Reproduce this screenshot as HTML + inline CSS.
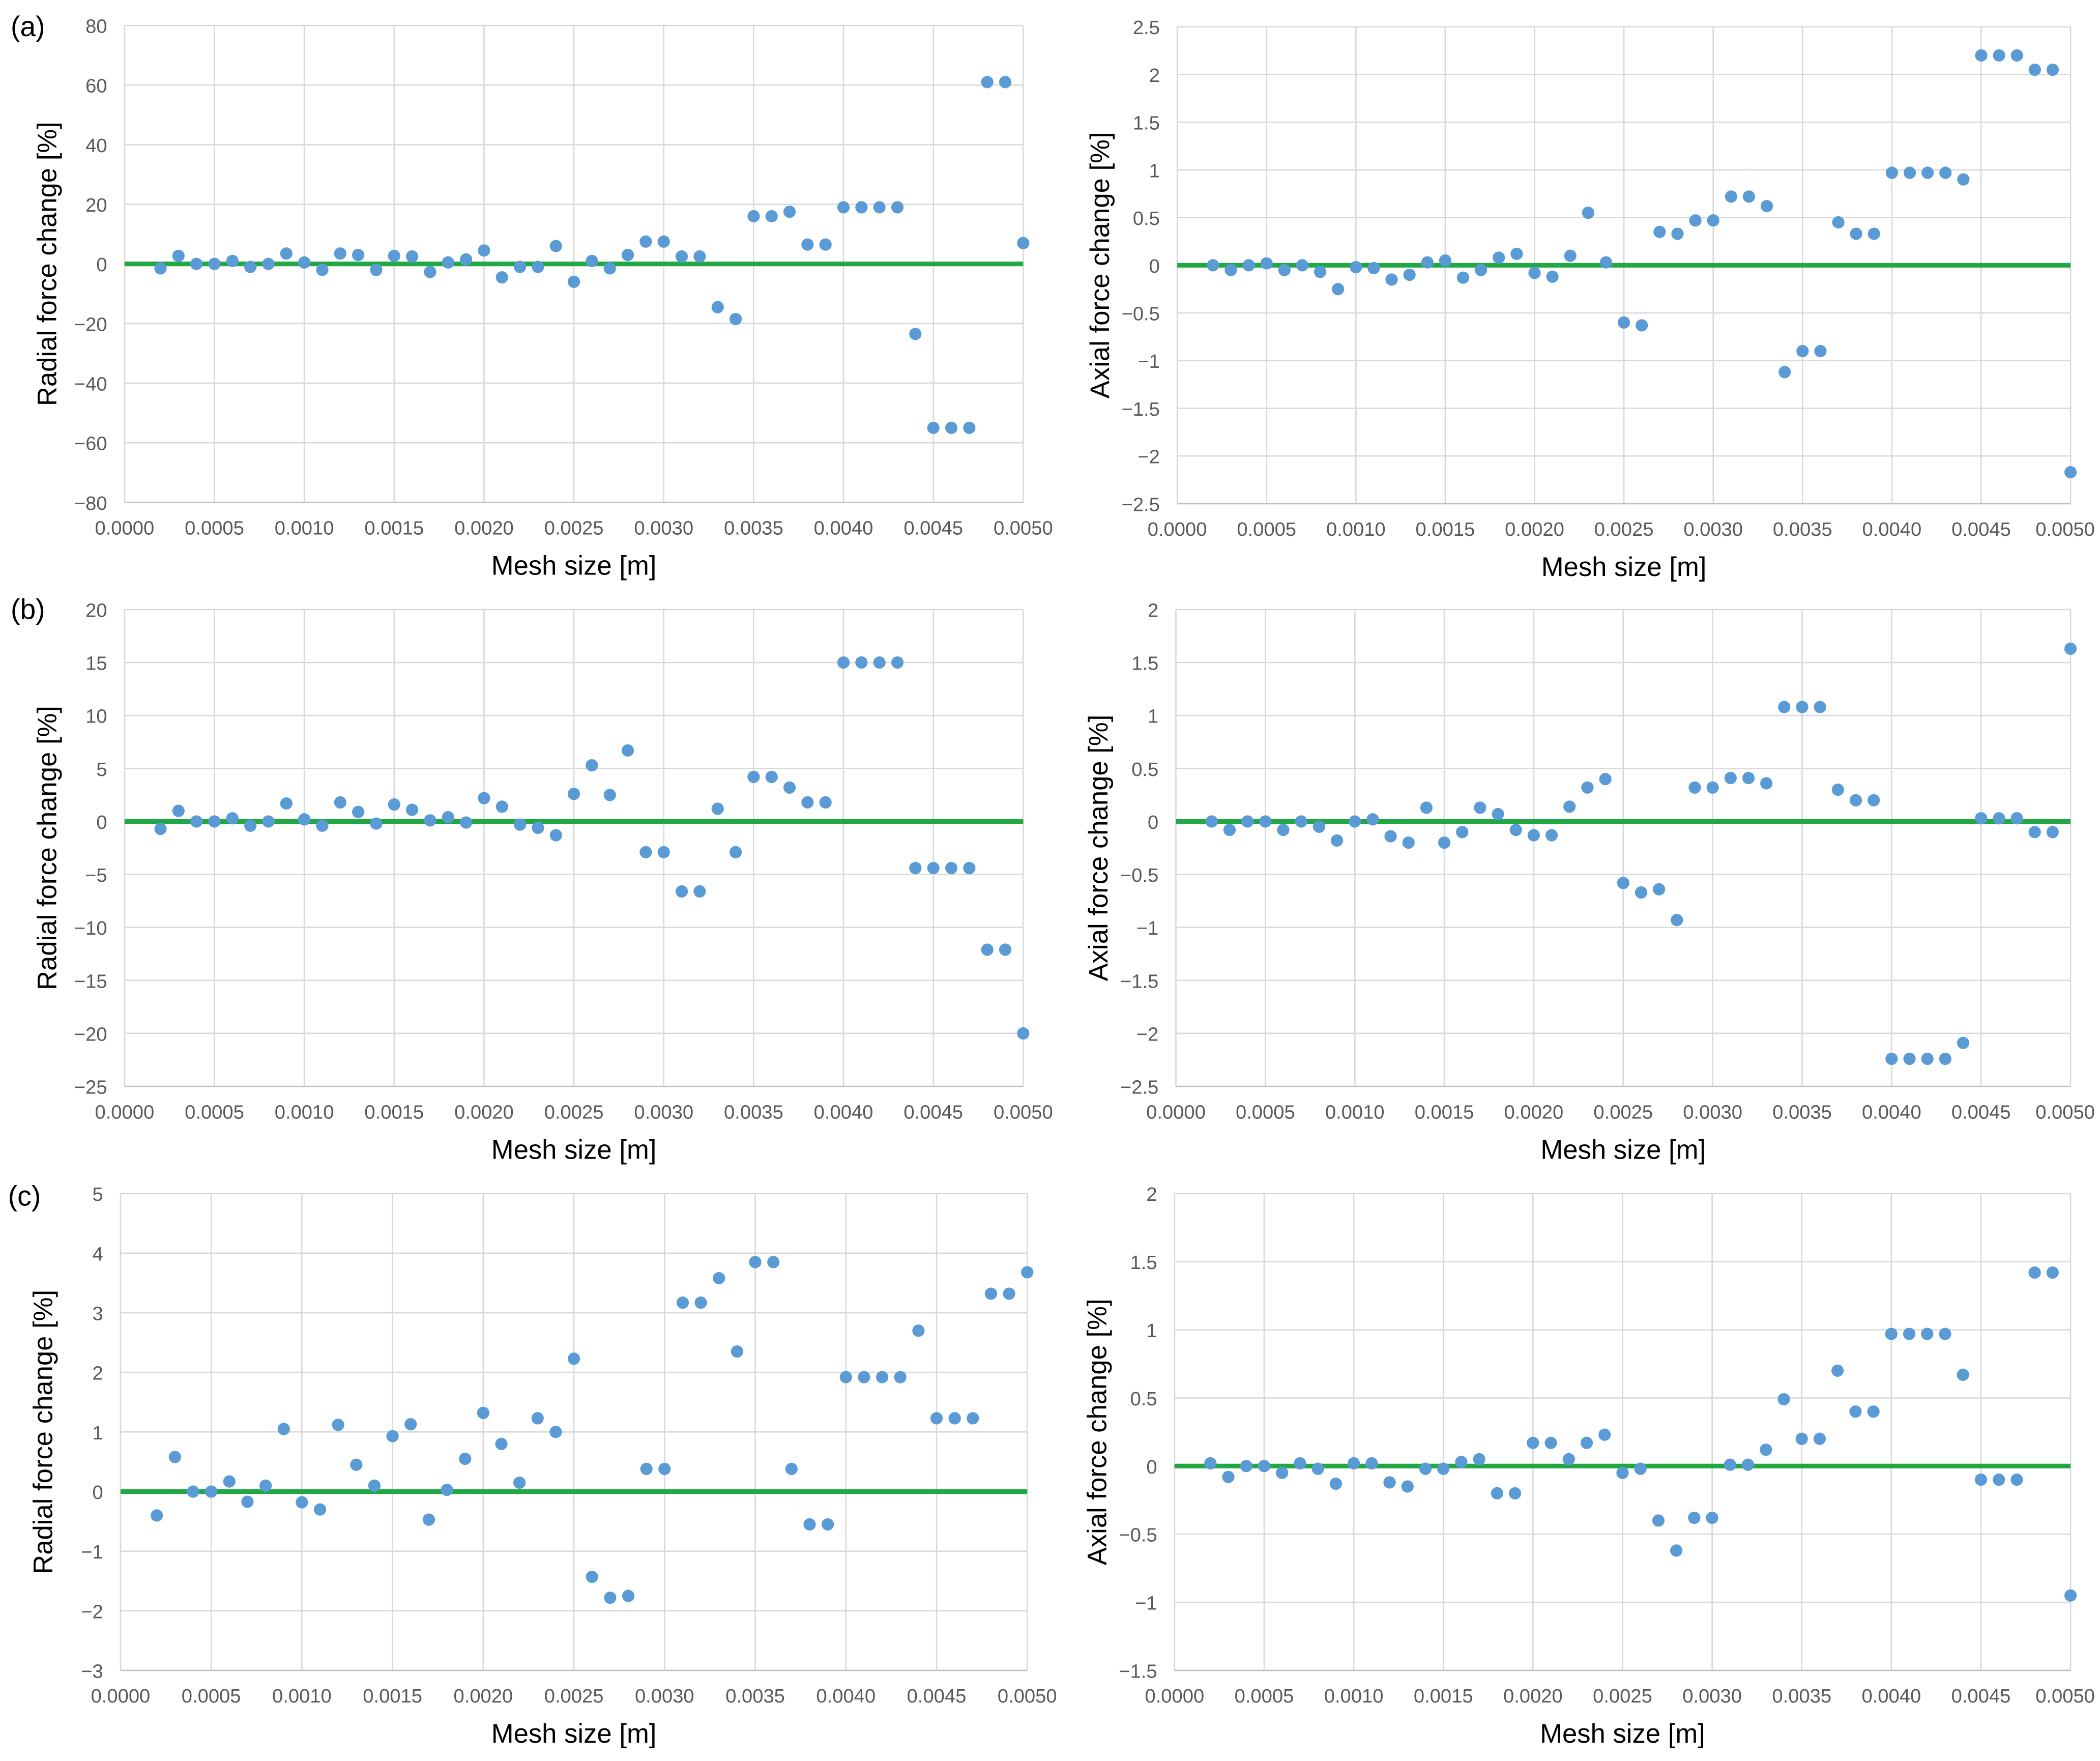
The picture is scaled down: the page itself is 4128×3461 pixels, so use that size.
<!DOCTYPE html>
<html><head><meta charset="utf-8"><style>
html,body{margin:0;padding:0;background:#fff;}
svg{display:block;font-family:"Liberation Sans",sans-serif;}
</style></head><body>
<svg id="fig" width="4128" height="3461" viewBox="0 0 1568 1314.6" xmlns="http://www.w3.org/2000/svg">
<rect width="1568" height="1315" fill="#fff"/>
<text x="8" y="27" font-size="21">(a)</text>
<text x="8" y="462" font-size="21">(b)</text>
<text x="6" y="900" font-size="21">(c)</text>
</svg>
<script>
const meshSizes = [];
for (let i = 2; i <= 50; i++) meshSizes.push(i / 10000);
const xTicks = ["0.0000","0.0005","0.0010","0.0015","0.0020","0.0025","0.0030","0.0035","0.0040","0.0045","0.0050"];
const radialA = [-1.5,2.7,0,0,1,-1,0,3.5,0.5,-2,3.5,3,-2,2.7,2.5,-2.7,0.5,1.5,4.5,-4.5,-1,-1,6,-6,1,-1.5,3,7.5,7.5,2.5,2.5,-14.5,-18.5,16,16,17.5,6.5,6.5,19,19,19,19,-23.5,-55,-55,-55,61,61,7];
const axialA = [0,-0.05,0,0.02,-0.05,0,-0.07,-0.25,-0.02,-0.03,-0.15,-0.1,0.03,0.05,-0.13,-0.05,0.08,0.12,-0.08,-0.12,0.1,0.55,0.03,-0.6,-0.63,0.35,0.33,0.47,0.47,0.72,0.72,0.62,-1.12,-0.9,-0.9,0.45,0.33,0.33,0.97,0.97,0.97,0.97,0.9,2.2,2.2,2.2,2.05,2.05,-2.17];
const radialB = [-0.7,1,0,0,0.3,-0.4,0,1.7,0.2,-0.4,1.8,0.9,-0.2,1.6,1.1,0.1,0.4,-0.1,2.2,1.4,-0.3,-0.6,-1.3,2.6,5.3,2.5,6.7,-2.9,-2.9,-6.6,-6.6,1.2,-2.9,4.2,4.2,3.2,1.8,1.8,15,15,15,15,-4.4,-4.4,-4.4,-4.4,-12.1,-12.1,-20];
const axialB = [0,-0.08,0,0,-0.08,0,-0.05,-0.18,0,0.02,-0.14,-0.2,0.13,-0.2,-0.1,0.13,0.07,-0.08,-0.13,-0.13,0.14,0.32,0.4,-0.58,-0.67,-0.64,-0.93,0.32,0.32,0.41,0.41,0.36,1.08,1.08,1.08,0.3,0.2,0.2,-2.24,-2.24,-2.24,-2.24,-2.09,0.03,0.03,0.03,-0.1,-0.1,1.63];
const radialC = [-0.4,0.58,0,0,0.17,-0.17,0.1,1.05,-0.18,-0.3,1.12,0.45,0.1,0.93,1.13,-0.47,0.03,0.55,1.32,0.8,0.15,1.23,1.0,2.23,-1.43,-1.78,-1.75,0.38,0.38,3.17,3.17,3.58,2.35,3.85,3.85,0.38,-0.55,-0.55,1.92,1.92,1.92,1.92,2.7,1.23,1.23,1.23,3.32,3.32,3.68];
const axialC = [0.02,-0.08,0,0,-0.05,0.02,-0.02,-0.13,0.02,0.02,-0.12,-0.15,-0.02,-0.02,0.03,0.05,-0.2,-0.2,0.17,0.17,0.05,0.17,0.23,-0.05,-0.02,-0.4,-0.62,-0.38,-0.38,0.01,0.01,0.12,0.49,0.2,0.2,0.7,0.4,0.4,0.97,0.97,0.97,0.97,0.67,-0.1,-0.1,-0.1,1.42,1.42,-0.95];
const ticksRA = ["80","60","40","20","0","-20","-40","-60","-80"];
const ticksAA = ["2.5","2","1.5","1","0.5","0","-0.5","-1","-1.5","-2","-2.5"];
const ticksRB = ["20","15","10","5","0","-5","-10","-15","-20","-25"];
const ticksAB = ["2","1.5","1","0.5","0","-0.5","-1","-1.5","-2","-2.5"];
const ticksRC = ["5","4","3","2","1","0","-1","-2","-3"];
const ticksAC = ["2","1.5","1","0.5","0","-0.5","-1","-1.5"];

const panels = [
 {id:"a-radial", data:radialA, ticks:ticksRA, x0:93, x1:764, y0:19, y1:375, title:"Radial force change [%]"},
 {id:"a-axial", data:axialA, ticks:ticksAA, x0:879, x1:1546, y0:20, y1:376, title:"Axial force change [%]"},
 {id:"b-radial", data:radialB, ticks:ticksRB, x0:93, x1:764, y0:455, y1:811, title:"Radial force change [%]"},
 {id:"b-axial", data:axialB, ticks:ticksAB, x0:878, x1:1546, y0:455, y1:811, title:"Axial force change [%]"},
 {id:"c-radial", data:radialC, ticks:ticksRC, x0:90, x1:767, y0:891, y1:1247, title:"Radial force change [%]"},
 {id:"c-axial", data:axialC, ticks:ticksAC, x0:877, x1:1546, y0:891, y1:1247, title:"Axial force change [%]"}
];
const NS = "http://www.w3.org/2000/svg";
const svg = document.getElementById("fig");
function mk(tag, attrs, parent) {
  const e = document.createElementNS(NS, tag);
  for (const k in attrs) e.setAttribute(k, attrs[k]);
  parent.appendChild(e);
  return e;
}
panels.forEach(p => {
  const g = mk("g", {}, svg);
  
  
  const yMax = parseFloat(p.ticks[0]), yMin = parseFloat(p.ticks[p.ticks.length - 1]);
  const xMin = parseFloat(xTicks[0]), xMax = parseFloat(xTicks[xTicks.length - 1]);
  const sx = v => p.x0 + (v - xMin) / (xMax - xMin) * (p.x1 - p.x0);
  const sy = v => p.y0 + (yMax - v) / (yMax - yMin) * (p.y1 - p.y0);
  p.ticks.forEach(t => {
    const y = sy(parseFloat(t));
    const l = mk("line", {x1:p.x0, x2:p.x1, y1:y, y2:y, stroke:"#d9d9d9", "stroke-width":1}, g);
    
    
    const tx = mk("text", {x:p.x0 - 13, y:y + 5.5, "font-size":14.5, "text-anchor":"end", fill:"#595959"}, g);
    
    
    tx.textContent = t.replace("-", "\u2212");
  });
  xTicks.forEach(t => {
    const x = sx(parseFloat(t));
    const l = mk("line", {x1:x, x2:x, y1:p.y0, y2:p.y1, stroke:"#d9d9d9", "stroke-width":1}, g);
    
    
    const tx = mk("text", {x:Math.min(x, 1542), y:p.y1 + 24, "font-size":14.5, "text-anchor":"middle", fill:"#595959"}, g);
    
    
    tx.textContent = t;
  });
  const ax = mk("line", {x1:p.x0, x2:p.x1, y1:p.y1, y2:p.y1, stroke:"#bfbfbf", "stroke-width":1}, g);
  
  
  const zl = mk("line", {x1:p.x0, x2:p.x1, y1:sy(0), y2:sy(0), stroke:"#21a845", "stroke-width":3.5}, g);
  
  
  p.data.forEach((v, i) => {
    const c = mk("circle", {cx:sx(meshSizes[i]), cy:sy(v), r:4.6, fill:"#5b9bd5"}, g);
    
    
  });
  const xt = mk("text", {x:(p.x0 + p.x1) / 2, y:p.y1 + 54, "font-size":20, "text-anchor":"middle", fill:"#000"}, g);
  
  
  xt.textContent = "Mesh size [m]";
  const cy = (p.y0 + p.y1) / 2, cx = p.x0 - 51;
  const yt = mk("text", {x:cx, y:cy, "font-size":20, "text-anchor":"middle", fill:"#000", transform:"rotate(-90 " + cx + " " + cy + ")"}, g);
  
  
  yt.textContent = p.title;
});
</script>
</body></html>
